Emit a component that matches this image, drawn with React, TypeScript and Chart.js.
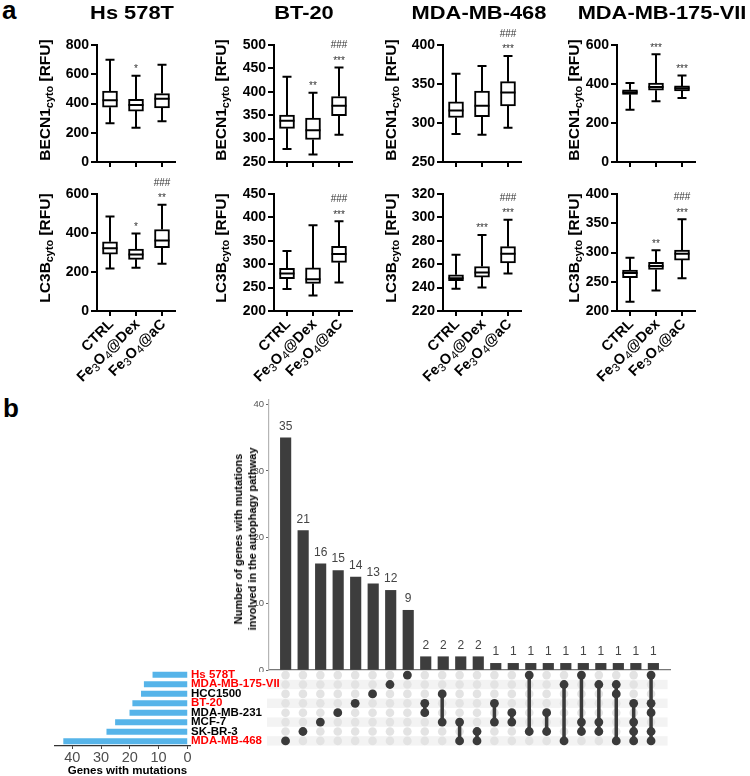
import React, { useEffect, useRef } from 'react';
import { Chart, registerables } from 'chart.js';
Chart.register(...registerables);

const FONT = '"Liberation Sans", Arial, Helvetica, sans-serif';

// ---------- Panel a data ----------
const groups = ['CTRL', 'Fe₃O₄@Dex', 'Fe₃O₄@aC'];
// box statistics per group: [min, q1, median, q3, max]
const hsBECN1 = [[265, 375, 422, 485, 700], [235, 348, 390, 428, 590], [278, 370, 432, 468, 665]];
const bt20BECN1 = [[278, 322, 338, 350, 432], [266, 298, 318, 344, 398], [308, 349, 370, 390, 452]];
const mda468BECN1 = [[286, 307, 316, 327, 363], [285, 308, 322, 341, 373], [294, 322, 339, 353, 386]];
const mda175BECN1 = [[268, 347, 358, 370, 405], [311, 368, 385, 405, 552], [328, 364, 378, 390, 443]];
const hsLC3B = [[218, 292, 322, 355, 485], [222, 265, 290, 318, 398], [242, 325, 362, 418, 545]];
const bt20LC3B = [[247, 269, 280, 291, 328], [233, 259, 268, 292, 383], [261, 304, 322, 338, 392]];
const mda468LC3B = [[239, 246, 248, 251, 268], [240, 249, 253, 258, 285], [252, 261, 269, 275, 298]];
const mda175LC3B = [[216, 257, 265, 270, 291], [235, 271, 277, 283, 304], [256, 287, 298, 304, 357]];

// y-axis tick labels
const hsBECN1Ticks = [0, 200, 400, 600, 800];
const bt20BECN1Ticks = [250, 300, 350, 400, 450, 500];
const mda468BECN1Ticks = [250, 300, 350, 400];
const mda175BECN1Ticks = [0, 200, 400, 600];
const hsLC3BTicks = [0, 200, 400, 600];
const bt20LC3BTicks = [200, 250, 300, 350, 400, 450];
const mda468LC3BTicks = [220, 240, 260, 280, 300, 320];
const mda175LC3BTicks = [200, 250, 300, 350, 400];

// significance vs CTRL (stars) and vs Dex (hashes)
const hsBECN1Stars = ['', '*', ''];
const bt20BECN1Stars = ['', '**', '***'];
const mda468BECN1Stars = ['', '', '***'];
const mda175BECN1Stars = ['', '***', '***'];
const hsLC3BStars = ['', '*', '**'];
const bt20LC3BStars = ['', '', '***'];
const mda468LC3BStars = ['', '***', '***'];
const mda175LC3BStars = ['', '**', '***'];
const hsBECN1Hash = ['', '', ''];
const bt20BECN1Hash = ['', '', '###'];
const mda468BECN1Hash = ['', '', '###'];
const mda175BECN1Hash = ['', '', ''];
const hsLC3BHash = ['', '', '###'];
const bt20LC3BHash = ['', '', '###'];
const mda468LC3BHash = ['', '', '###'];
const mda175LC3BHash = ['', '', '###'];

const cellLines = ['Hs 578T', 'BT-20', 'MDA-MB-468', 'MDA-MB-175-VII'];

// ---------- Panel b data ----------
const setNames = ['Hs 578T', 'MDA-MB-175-VII', 'HCC1500', 'BT-20', 'MDA-MB-231', 'MCF-7', 'SK-BR-3', 'MDA-MB-468'];
const setSizes = [12, 15, 16, 19, 20, 25, 28, 43];
const setHighlighted = [true, true, false, true, false, false, false, true];
const intersectionSizes = [35, 21, 16, 15, 14, 13, 12, 9, 2, 2, 2, 2, 1, 1, 1, 1, 1, 1, 1, 1, 1, 1];
const intersectionSets = [
  [7], [6], [5], [4], [3], [2], [1], [0],
  [3, 4], [2, 5], [5, 7], [6, 7],
  [3, 5], [4, 5], [0, 6], [4, 6], [1, 7],
  [0, 5, 6], [1, 5, 6], [1, 2, 7], [3, 5, 6, 7], [0, 3, 4, 6, 7],
];
const intersectionTicks = [0, 10, 20, 30, 40];
const geneTicks = [0, 10, 20, 30, 40];

const COL_AXIS_X = [97, 274, 443, 617];

const noPad = (s: any) => { s.paddingTop = 0; s.paddingBottom = 0; s.paddingLeft = 0; s.paddingRight = 0; };

const SUBS = '₀₁₂₃₄₅₆₇₈₉';
// split a label into normal / subscript runs
function splitRuns(label: string) {
  const runs: { t: string; sub: boolean }[] = [];
  for (const ch of label) {
    const k = SUBS.indexOf(ch);
    const sub = k >= 0;
    const c = sub ? String(k) : ch;
    const last = runs[runs.length - 1];
    if (last && last.sub === sub) last.t += c; else runs.push({ t: c, sub });
  }
  return runs;
}

type BoxProps = {
  axisX: number; plotTop: number; stats: number[][]; yTicks: number[];
  stars: string[]; hashes: string[]; showLabels: boolean;
};

function BoxPlot({ axisX, plotTop, stats, yTicks, stars, hashes, showLabels }: BoxProps) {
  const ref = useRef<HTMLCanvasElement>(null);
  const YW = 46, PW = 78, PT = 28, PR = 6, PH = 117;
  const XH = showLabels ? 95 : 8;
  const W = YW + PW + PR;
  const H = PT + PH + XH;
  useEffect(() => {
    const boxPlugin = {
      id: 'boxWhisker',
      afterDatasetsDraw(chart: any) {
        const ctx = chart.ctx;
        const ys = chart.scales.y;
        const meta = chart.getDatasetMeta(0);
        ctx.save();
        ctx.strokeStyle = '#000';
        ctx.lineWidth = 2;
        meta.data.forEach((el: any, i: number) => {
          const [mn, q1, md, q3, mx] = stats[i];
          const x = el.x;
          const p = (v: number) => ys.getPixelForValue(v);
          ctx.beginPath();
          ctx.moveTo(x, p(q3)); ctx.lineTo(x, p(mx));
          ctx.moveTo(x, p(q1)); ctx.lineTo(x, p(mn));
          ctx.moveTo(x - 4.5, p(mx)); ctx.lineTo(x + 4.5, p(mx));
          ctx.moveTo(x - 4.5, p(mn)); ctx.lineTo(x + 4.5, p(mn));
          ctx.moveTo(x - 7.5, p(md)); ctx.lineTo(x + 7.5, p(md));
          ctx.stroke();
          ctx.fillStyle = '#333';
          ctx.font = `10px ${FONT}`;
          ctx.textAlign = 'center';
          ctx.textBaseline = 'alphabetic';
          const top = p(mx);
          if (stars[i]) ctx.fillText(stars[i], x, top - 3.5);
          if (hashes[i]) ctx.fillText(hashes[i], x, top - 19);
        });
        ctx.restore();
      },
      afterDraw(chart: any) {
        if (!showLabels) return;
        const ctx = chart.ctx;
        const xs = chart.scales.x;
        const mainFont = `bold 14.5px ${FONT}`;
        const subFont = `11.5px ${FONT}`;
        (chart.data.labels as string[]).forEach((label, i) => {
          const runs = splitRuns(label);
          const x = xs.getPixelForTick(i);
          ctx.save();
          ctx.fillStyle = '#000';
          ctx.translate(x + 1.5, xs.top + 11);
          ctx.rotate(-Math.PI / 4);
          ctx.textAlign = 'left';
          ctx.textBaseline = 'middle';
          let total = 0;
          runs.forEach((r) => { ctx.font = r.sub ? subFont : mainFont; total += ctx.measureText(r.t).width; });
          let cx = -total;
          runs.forEach((r) => {
            ctx.font = r.sub ? subFont : mainFont;
            ctx.fillText(r.t, cx, r.sub ? 3.5 : 0);
            cx += ctx.measureText(r.t).width;
          });
          ctx.restore();
        });
      },
    };
    const tickFont = { family: FONT, size: 14, weight: 'bold' as const };
    const chart = new Chart(ref.current as HTMLCanvasElement, {
      type: 'bar',
      data: {
        labels: groups,
        datasets: [{
          data: stats.map((s) => [s[1], s[3]]) as any,
          backgroundColor: '#fff',
          borderColor: '#000',
          borderWidth: 2,
          borderSkipped: false,
          barThickness: 15,
        }],
      },
      options: {
        responsive: false,
        animation: false,
        devicePixelRatio: 1,
        layout: { padding: { top: PT, right: PR, left: 0, bottom: 0 } },
        plugins: { legend: { display: false }, tooltip: { enabled: false } },
        scales: {
          x: {
            type: 'category',
            offset: true,
            grid: { display: true, drawOnChartArea: false, drawTicks: true, tickLength: 5, color: '#000', lineWidth: 2, offset: false },
            border: { display: true, color: '#000', width: 2 },
            ticks: { display: false, autoSkip: false },
            afterFit: (s: any) => { s.height = XH; noPad(s); },
          },
          y: {
            min: yTicks[0],
            max: yTicks[yTicks.length - 1],
            afterBuildTicks: (s: any) => { s.ticks = yTicks.map((v) => ({ value: v })); },
            grid: { display: true, drawOnChartArea: false, drawTicks: true, tickLength: 6, color: '#000', lineWidth: 2 },
            border: { display: true, color: '#000', width: 2 },
            ticks: { font: tickFont, color: '#000', padding: 2, autoSkip: false },
            afterFit: (s: any) => { s.width = YW; noPad(s); },
          },
        },
      },
      plugins: [boxPlugin],
    } as any);
    return () => chart.destroy();
  }, []);
  return (
    <canvas ref={ref} width={W} height={H}
      style={{ position: 'absolute', left: axisX - YW, top: plotTop - PT, width: W, height: H }} />
  );
}

function IntersectionBars() {
  const ref = useRef<HTMLCanvasElement>(null);
  const YW = 30, PT = 6;
  const left = 269, right = 670, top = 400, bottom = 669;
  const W = YW + (right - left) + 4;
  const H = PT + (bottom - top) + 2;
  useEffect(() => {
    const labelPlugin = {
      id: 'barLabels',
      afterDatasetsDraw(chart: any) {
        const ctx = chart.ctx;
        const meta = chart.getDatasetMeta(0);
        ctx.save();
        ctx.fillStyle = '#444';
        ctx.font = `12px ${FONT}`;
        ctx.textAlign = 'center';
        ctx.textBaseline = 'alphabetic';
        meta.data.forEach((el: any, i: number) => {
          ctx.fillText(String(intersectionSizes[i]), el.x, el.y - 8);
        });
        ctx.restore();
      },
    };
    const chart = new Chart(ref.current as HTMLCanvasElement, {
      type: 'bar',
      data: {
        datasets: [{
          data: intersectionSizes.map((v, i) => ({ x: i, y: v })),
          backgroundColor: '#3d3d3d',
          barThickness: 10.5,
        }],
      },
      options: {
        responsive: false,
        animation: false,
        devicePixelRatio: 1,
        layout: { padding: { top: PT, right: 4, left: 0, bottom: 0 } },
        plugins: { legend: { display: false }, tooltip: { enabled: false } },
        scales: {
          x: {
            type: 'linear', min: -0.95, max: 21.95, offset: false,
            ticks: { display: false },
            grid: { display: false, offset: false },
            border: { display: true, color: '#777', width: 1.2 },
            afterFit: (s: any) => { s.height = 2; noPad(s); },
          },
          y: {
            min: 0, max: 40.7,
            afterBuildTicks: (s: any) => { s.ticks = intersectionTicks.map((v) => ({ value: v })); },
            grid: { display: true, drawOnChartArea: false, drawTicks: true, tickLength: 3, color: '#666' },
            border: { display: true, color: '#b5b5b5', width: 1.2 },
            ticks: { font: { family: FONT, size: 9.5 }, color: '#555', padding: 2 },
            afterFit: (s: any) => { s.width = YW; noPad(s); },
          },
        },
      },
      plugins: [labelPlugin],
    } as any);
    return () => chart.destroy();
  }, []);
  return (
    <canvas ref={ref} width={W} height={H + 1}
      style={{ position: 'absolute', left: left - YW, top: top - PT, width: W, height: H + 1 }} />
  );
}

function Matrix() {
  const ref = useRef<HTMLCanvasElement>(null);
  const PL = 5, PV = 4;
  const left = 269, right = 670, top = 670, bottom = 746;
  const W = PL + (right - left) + 2;
  const H = PV * 2 + (bottom - top);
  useEffect(() => {
    const stripePlugin = {
      id: 'stripes',
      beforeDatasetsDraw(chart: any) {
        const ctx = chart.ctx;
        const ys = chart.scales.y;
        const a = chart.chartArea;
        ctx.save();
        ctx.fillStyle = '#f3f3f3';
        setNames.forEach((_, r) => {
          if (r % 2 === 1) {
            const y0 = ys.getPixelForValue(r - 0.5);
            const y1 = ys.getPixelForValue(r + 0.5);
            ctx.fillRect(a.left - 2, Math.min(y0, y1), a.right - a.left + 2, Math.abs(y1 - y0));
          }
        });
        ctx.restore();
      },
    };
    const bg: { x: number; y: number }[] = [];
    intersectionSizes.forEach((_, c) => setNames.forEach((__, r) => bg.push({ x: c, y: r })));
    const datasets: any[] = [];
    intersectionSets.forEach((rows, c) => {
      datasets.push({
        data: rows.map((r) => ({ x: c, y: r })),
        showLine: true,
        borderColor: '#3a3a3a',
        backgroundColor: '#3a3a3a',
        borderWidth: 3.5,
        pointRadius: 4.4,
        pointBackgroundColor: '#3a3a3a',
        pointBorderColor: '#3a3a3a',
        pointBorderWidth: 0,
        order: 0,
      });
    });
    datasets.push({
      data: bg,
      pointRadius: 4.3,
      backgroundColor: '#e3e3e3',
      pointBackgroundColor: '#e3e3e3',
      pointBorderColor: '#e3e3e3',
      pointBorderWidth: 0,
      showLine: false,
      order: 10,
    });
    const chart = new Chart(ref.current as HTMLCanvasElement, {
      type: 'scatter',
      data: { datasets },
      options: {
        responsive: false,
        animation: false,
        devicePixelRatio: 1,
        clip: false,
        layout: { padding: { top: PV, bottom: PV, left: PL, right: 2 } },
        plugins: { legend: { display: false }, tooltip: { enabled: false } },
        scales: {
          x: { type: 'linear', min: -0.95, max: 21.95, display: false },
          y: { type: 'linear', min: -0.5, max: 7.5, reverse: true, display: false },
        },
      },
      plugins: [stripePlugin],
    } as any);
    return () => chart.destroy();
  }, []);
  return (
    <canvas ref={ref} width={W} height={H}
      style={{ position: 'absolute', left: left - PL, top: top - PV, width: W, height: H }} />
  );
}

function SetSizeBars() {
  const ref = useRef<HTMLCanvasElement>(null);
  const PL = 15, PT = 4, YW = 100, XH = 20;
  const left = 55, right = 190, top = 670, bottom = 746;
  const W = PL + (right - left) + YW;
  const H = PT + (bottom - top) + XH;
  useEffect(() => {
    const chart = new Chart(ref.current as HTMLCanvasElement, {
      type: 'bar',
      data: {
        labels: setNames,
        datasets: [{ data: setSizes, backgroundColor: '#56B4E9', barThickness: 5.5 }],
      },
      options: {
        indexAxis: 'y',
        responsive: false,
        animation: false,
        devicePixelRatio: 1,
        layout: { padding: { top: PT, left: PL, right: 0, bottom: 0 } },
        plugins: { legend: { display: false }, tooltip: { enabled: false } },
        scales: {
          x: {
            type: 'linear', reverse: true, min: -0.9, max: 46,
            afterBuildTicks: (s: any) => { s.ticks = geneTicks.map((v) => ({ value: v })); },
            grid: { display: true, drawOnChartArea: false, drawTicks: true, tickLength: 3, color: '#444' },
            border: { display: true, color: '#333', width: 1.2 },
            ticks: { font: { family: FONT, size: 14.5 }, color: '#4d4d4d', padding: 0 },
            afterFit: (s: any) => { s.height = XH; noPad(s); },
          },
          y: {
            type: 'category',
            position: 'right',
            grid: { display: false, drawTicks: false, tickLength: 0 },
            border: { display: false },
            ticks: {
              autoSkip: false,
              font: { family: FONT, size: 11.5, weight: 'bold' },
              color: (c: any) => (setHighlighted[c.index] ? '#ff0000' : '#000'),
              padding: 1,
            },
            afterFit: (s: any) => { s.width = YW; noPad(s); },
          },
        },
      },
    } as any);
    return () => chart.destroy();
  }, []);
  return (
    <canvas ref={ref} width={W} height={H}
      style={{ position: 'absolute', left: left - PL, top: top - PT, width: W, height: H }} />
  );
}

const txt = (extra: React.CSSProperties): React.CSSProperties => ({
  position: 'absolute', fontFamily: FONT, fontWeight: 'bold', whiteSpace: 'nowrap',
  color: '#000', lineHeight: 1, pointerEvents: 'none', ...extra,
});

function AxisTitle({ cx, cy, protein }: { cx: number; cy: number; protein: string }) {
  return (
    <div style={txt({ left: cx, top: cy, fontSize: 15.5, transform: 'translate(-50%, -50%) rotate(-90deg)' })}>
      {protein}<sub style={{ fontSize: '70%', verticalAlign: '-0.25em' }}>cyto</sub> [RFU]
    </div>
  );
}

export default function App() {
  const topRow = [
    { stats: hsBECN1, ticks: hsBECN1Ticks, stars: hsBECN1Stars, hashes: hsBECN1Hash },
    { stats: bt20BECN1, ticks: bt20BECN1Ticks, stars: bt20BECN1Stars, hashes: bt20BECN1Hash },
    { stats: mda468BECN1, ticks: mda468BECN1Ticks, stars: mda468BECN1Stars, hashes: mda468BECN1Hash },
    { stats: mda175BECN1, ticks: mda175BECN1Ticks, stars: mda175BECN1Stars, hashes: mda175BECN1Hash },
  ];
  const bottomRow = [
    { stats: hsLC3B, ticks: hsLC3BTicks, stars: hsLC3BStars, hashes: hsLC3BHash },
    { stats: bt20LC3B, ticks: bt20LC3BTicks, stars: bt20LC3BStars, hashes: bt20LC3BHash },
    { stats: mda468LC3B, ticks: mda468LC3BTicks, stars: mda468LC3BStars, hashes: mda468LC3BHash },
    { stats: mda175LC3B, ticks: mda175LC3BTicks, stars: mda175LC3BStars, hashes: mda175LC3BHash },
  ];
  const titleX = [131.7, 303.7, 479, 661.7];
  const axisTitleX = [46, 222, 392, 575];
  return (
    <div style={{ position: 'fixed', left: 0, top: 0, width: 750, height: 776, background: '#fff', overflow: 'hidden' }}>
      {topRow.map((p, i) => (
        <BoxPlot key={'t' + i} axisX={COL_AXIS_X[i]} plotTop={45} stats={p.stats} yTicks={p.ticks}
          stars={p.stars} hashes={p.hashes} showLabels={false} />
      ))}
      {bottomRow.map((p, i) => (
        <BoxPlot key={'b' + i} axisX={COL_AXIS_X[i]} plotTop={194} stats={p.stats} yTicks={p.ticks}
          stars={p.stars} hashes={p.hashes} showLabels={true} />
      ))}
      <IntersectionBars />
      <Matrix />
      <SetSizeBars />

      <div style={txt({ left: 2, top: -3, fontSize: 26 })}>a</div>
      <div style={txt({ left: 3, top: 395, fontSize: 26 })}>b</div>
      {cellLines.map((n, i) => (
        <div key={n} style={txt({ left: titleX[i], top: 12, fontSize: 19, transform: 'translate(-50%, -50%) scaleX(1.15)' })}>{n}</div>
      ))}
      {axisTitleX.map((x, i) => (
        <React.Fragment key={'at' + i}>
          <AxisTitle cx={x} cy={100} protein="BECN1" />
          <AxisTitle cx={x} cy={248} protein="LC3B" />
        </React.Fragment>
      ))}
      <div style={txt({ left: 245, top: 539, fontSize: 11, lineHeight: '14px', textAlign: 'center', transform: 'translate(-50%, -50%) rotate(-90deg)' })}>
        Number of genes with mutations<br />involved in the autophagy pathway
      </div>
      <div style={txt({ left: 127.5, top: 770.5, fontSize: 11.5, transform: 'translate(-50%, -50%)' })}>Genes with mutations</div>
    </div>
  );
}
